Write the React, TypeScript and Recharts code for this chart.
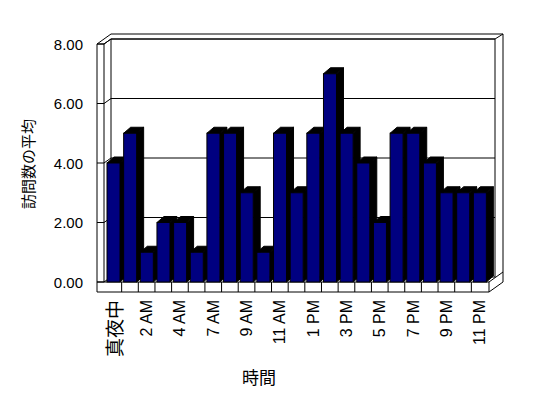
import React from 'react';
import { BarChart, Bar, XAxis, YAxis, CartesianGrid, Label } from 'recharts';

const categories = [
  '真夜中', '1 AM', '2 AM', '3 AM', '4 AM', '5 AM', '7 AM', '8 AM', '9 AM', '10 AM', '11 AM', '正午',
  '1 PM', '2 PM', '3 PM', '4 PM', '5 PM', '6 PM', '7 PM', '8 PM', '9 PM', '10 PM', '11 PM',
];
const visits = [4, 5, 1, 2, 2, 1, 5, 5, 3, 1, 5, 3, 5, 7, 5, 4, 2, 5, 5, 4, 3, 3, 3];
const yTicks = [0, 2, 4, 6, 8];
const yTitle = '訪問数の平均';
const xTitle = '時間';

const data = categories.map((hour, i) => ({ hour, visits: visits[i] }));

const W = 548;
const H = 398;
const PLOT = { left: 105, top: 44, right: 488, bottom: 282 };
const NAVY = '#000080';
const LATIN = "'Liberation Sans', Arial, sans-serif";
const CJK = "'Noto Sans CJK JP', sans-serif";

const L0 = PLOT.left - 8;
const L1 = PLOT.left - 1;
const R = PLOT.right + 1;
const D1 = { dx: 7, dy: -5 };
const D2 = { dx: 14, dy: -10 };
const FLOOR = 10;

function Frame() {
  const T = PLOT.top;
  const B = PLOT.bottom;
  const sil = [
    [L0, T],
    [L0 + D2.dx, T + D2.dy],
    [R + D2.dx, T + D2.dy],
    [R + D2.dx, B + FLOOR + D2.dy],
    [R, B + FLOOR],
    [L0, B + FLOOR],
  ]
    .map((p) => p.join(','))
    .join(' ');
  const bx0 = L1 + D1.dx;
  const bx1 = PLOT.right + D1.dx;
  return (
    <g>
      <polygon points={sil} fill="#fff" stroke="#000" strokeWidth={1} />
      <path
        d={`M${bx0},${B + D1.dy} V${T + D1.dy} H${bx1} V${B + D1.dy} M${bx1},${T + D1.dy} L${R + D2.dx},${T + D2.dy}`}
        fill="none"
        stroke="#000"
      />
      <path d={`M${L0},${T} H${L1} V${B} M${L1},${T} L${bx0},${T + D1.dy}`} fill="none" stroke="#000" />
      <path
        d={`M${L0},${B} H${R} V${B + FLOOR} M${R},${B} L${R + D2.dx},${B + D2.dy}`}
        fill="none"
        stroke="#000"
      />
    </g>
  );
}

function gridLine(p: any) {
  const y = p.y1;
  return (
    <g key={p.key}>
      {p.index === 0 ? <Frame /> : null}
      <path
        d={`M${L0},${y} H${L1} L${L1 + D1.dx},${y + D1.dy} H${PLOT.right + D1.dx}`}
        fill="none"
        stroke="#000"
        strokeWidth={1}
      />
    </g>
  );
}

function Bar3D(p: any) {
  const { x, y, width: w, height: h } = p;
  if (w == null || h == null || isNaN(y)) return null;
  const dx = 7;
  const dy = -6;
  return (
    <g>
      <polygon
        points={`${x + w},${y} ${x + w + dx},${y + dy} ${x + w + dx},${y + h + dy} ${x + w},${y + h}`}
        fill="#000"
        stroke="#000"
      />
      <polygon
        points={`${x},${y} ${x + dx},${y + dy} ${x + w + dx},${y + dy} ${x + w},${y}`}
        fill="#000"
        stroke="#000"
      />
      <rect x={x} y={y} width={w} height={h} fill={NAVY} stroke="#000" strokeWidth={1} />
    </g>
  );
}

function XTick(p: any) {
  const { x, payload } = p;
  const idx = payload && payload.index != null ? payload.index : p.index;
  const band = (PLOT.right - PLOT.left) / categories.length;
  const val = String(payload.value);
  const isCjk = /[^\x00-\x7F]/.test(val);
  const ty = 300;
  return (
    <g>
      {idx < categories.length - 1 ? (
        <line x1={x + band / 2} y1={PLOT.bottom} x2={x + band / 2} y2={PLOT.bottom + FLOOR} stroke="#000" />
      ) : null}
      {idx % 2 === 0 ? (
        <text
          x={x}
          y={ty}
          transform={`rotate(-90 ${x} ${ty})`}
          textAnchor="end"
          dominantBaseline="central"
          fontSize={isCjk ? 19 : 16}
          fontFamily={isCjk ? CJK : LATIN}
          fill="#000"
        >
          {val}
        </text>
      ) : null}
    </g>
  );
}

function YTick(p: any) {
  const { y, payload } = p;
  return (
    <text x={83} y={y} textAnchor="end" dominantBaseline="central" fontSize={15} fontFamily={LATIN} fill="#000">
      {Number(payload.value).toFixed(2)}
    </text>
  );
}

export default function App() {
  return (
    <div style={{ position: 'absolute', left: 0, top: 0, width: W, height: H, background: '#fff' }}>
      <BarChart
        width={W}
        height={H}
        data={data}
        margin={{ top: PLOT.top, right: W - PLOT.right, left: 0, bottom: 0 }}
        barCategoryGap={0}
      >
        <CartesianGrid horizontal={gridLine} vertical={false} />
        <XAxis
          dataKey="hour"
          interval={0}
          axisLine={false}
          tickLine={false}
          height={H - PLOT.bottom}
          tick={(p: any) => <XTick {...p} />}
        >
          <Label
            content={() => (
              <text x={259} y={376} textAnchor="middle" dominantBaseline="central" fontSize={17} fontFamily={CJK} fill="#000">
                {xTitle}
              </text>
            )}
          />
        </XAxis>
        <YAxis
          domain={[0, 8]}
          ticks={yTicks}
          width={PLOT.left}
          axisLine={false}
          tickLine={false}
          tick={(p: any) => <YTick {...p} />}
        >
          <Label
            content={() => (
              <text
                x={27}
                y={164}
                transform="rotate(-90 27 164)"
                textAnchor="middle"
                dominantBaseline="central"
                fontSize={15}
                fontFamily={CJK}
                fill="#000"
              >
                {yTitle}
              </text>
            )}
          />
        </YAxis>
        <Bar dataKey="visits" barSize={13} isAnimationActive={false} shape={(p: any) => <Bar3D {...p} />} />
      </BarChart>
    </div>
  );
}
